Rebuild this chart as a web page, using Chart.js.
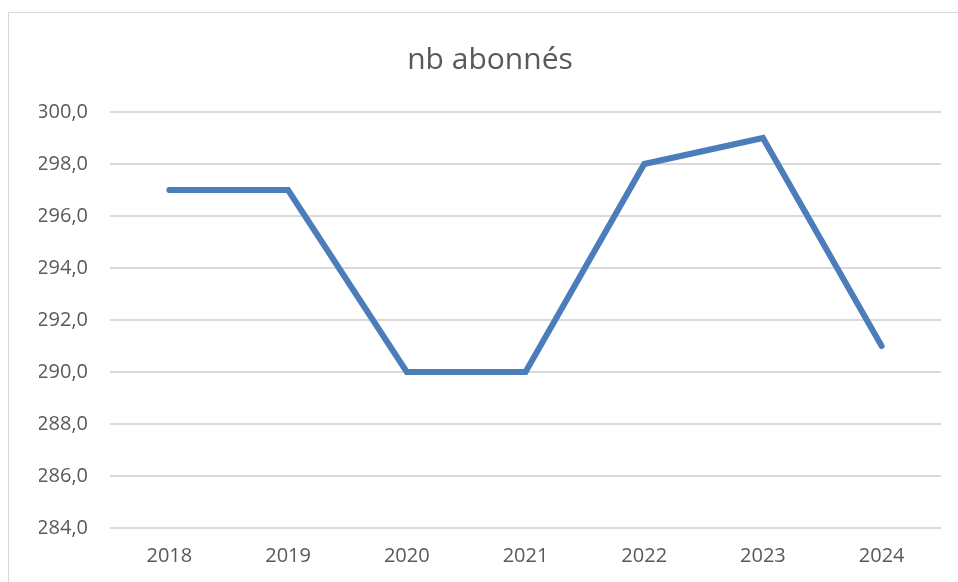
<!DOCTYPE html>
<html>
<head>
<meta charset="utf-8">
<script src="https://cdn.jsdelivr.net/npm/chart.js@4.4.1/dist/chart.umd.min.js"></script>
<style>
  html, body { margin: 0; padding: 0; background: #fff; }
  #wrap { position: relative; width: 958px; height: 582px; overflow: hidden; }
  #frame { position: absolute; left: 8px; top: 12px; width: 1000px; height: 700px; border: 1.5px solid #d9d9d9; box-sizing: border-box; }
  #myChart { position: absolute; left: 0; top: 0; }
</style>
</head>
<body>
<div id="wrap">
  <div id="frame"></div>
  <canvas id="myChart" width="958" height="582"></canvas>
</div>
<script>
// data
const years = ['2018', '2019', '2020', '2021', '2022', '2023', '2024'];
const abonnes = [297, 297, 290, 290, 298, 299, 291];
const yMin = 284;
const yMax = 300;
const yStep = 2;

const labelFont = { family: "'Open Sans', 'Noto Sans', sans-serif", size: 20 };

var myChart = new Chart(document.getElementById('myChart'), {
  type: 'line',
  data: {
    labels: years,
    datasets: [{
      label: 'nb abonnés',
      data: abonnes,
      borderColor: '#4a7dba',
      backgroundColor: '#4a7dba',
      borderWidth: 6,
      borderCapStyle: 'round',
      borderJoinStyle: 'miter',
      pointRadius: 0,
      tension: 0
    }]
  },
  options: {
    responsive: false,
    animation: false,
    // left padding shifts the title centre to the right like in the original
    layout: { padding: { top: 0, right: 17, bottom: 0, left: 39 } },
    plugins: {
      legend: { display: false },
      tooltip: { enabled: false },
      title: {
        display: true,
        text: 'nb abonnés',
        color: '#595959',
        font: { family: "'Open Sans', 'Noto Sans', sans-serif", size: 30, weight: 'normal' },
        padding: { top: 42, bottom: 34 }
      }
    },
    scales: {
      x: {
        offset: true,
        grid: { display: false, drawTicks: false },
        border: { display: false },
        ticks: { color: '#595959', font: labelFont, padding: 16, maxRotation: 0 },
        afterFit: function(scale) { scale.height = 54; }
      },
      y: {
        min: yMin,
        max: yMax,
        grid: { color: '#d9d9d9', lineWidth: 2, drawTicks: false },
        border: { display: false },
        ticks: {
          stepSize: yStep,
          color: '#595959',
          font: labelFont,
          padding: 22,
          callback: function(v) { return v.toFixed(1).replace('.', ','); }
        },
        afterFit: function(scale) { scale.width = 71; }
      }
    }
  }
});
</script>
</body>
</html>
